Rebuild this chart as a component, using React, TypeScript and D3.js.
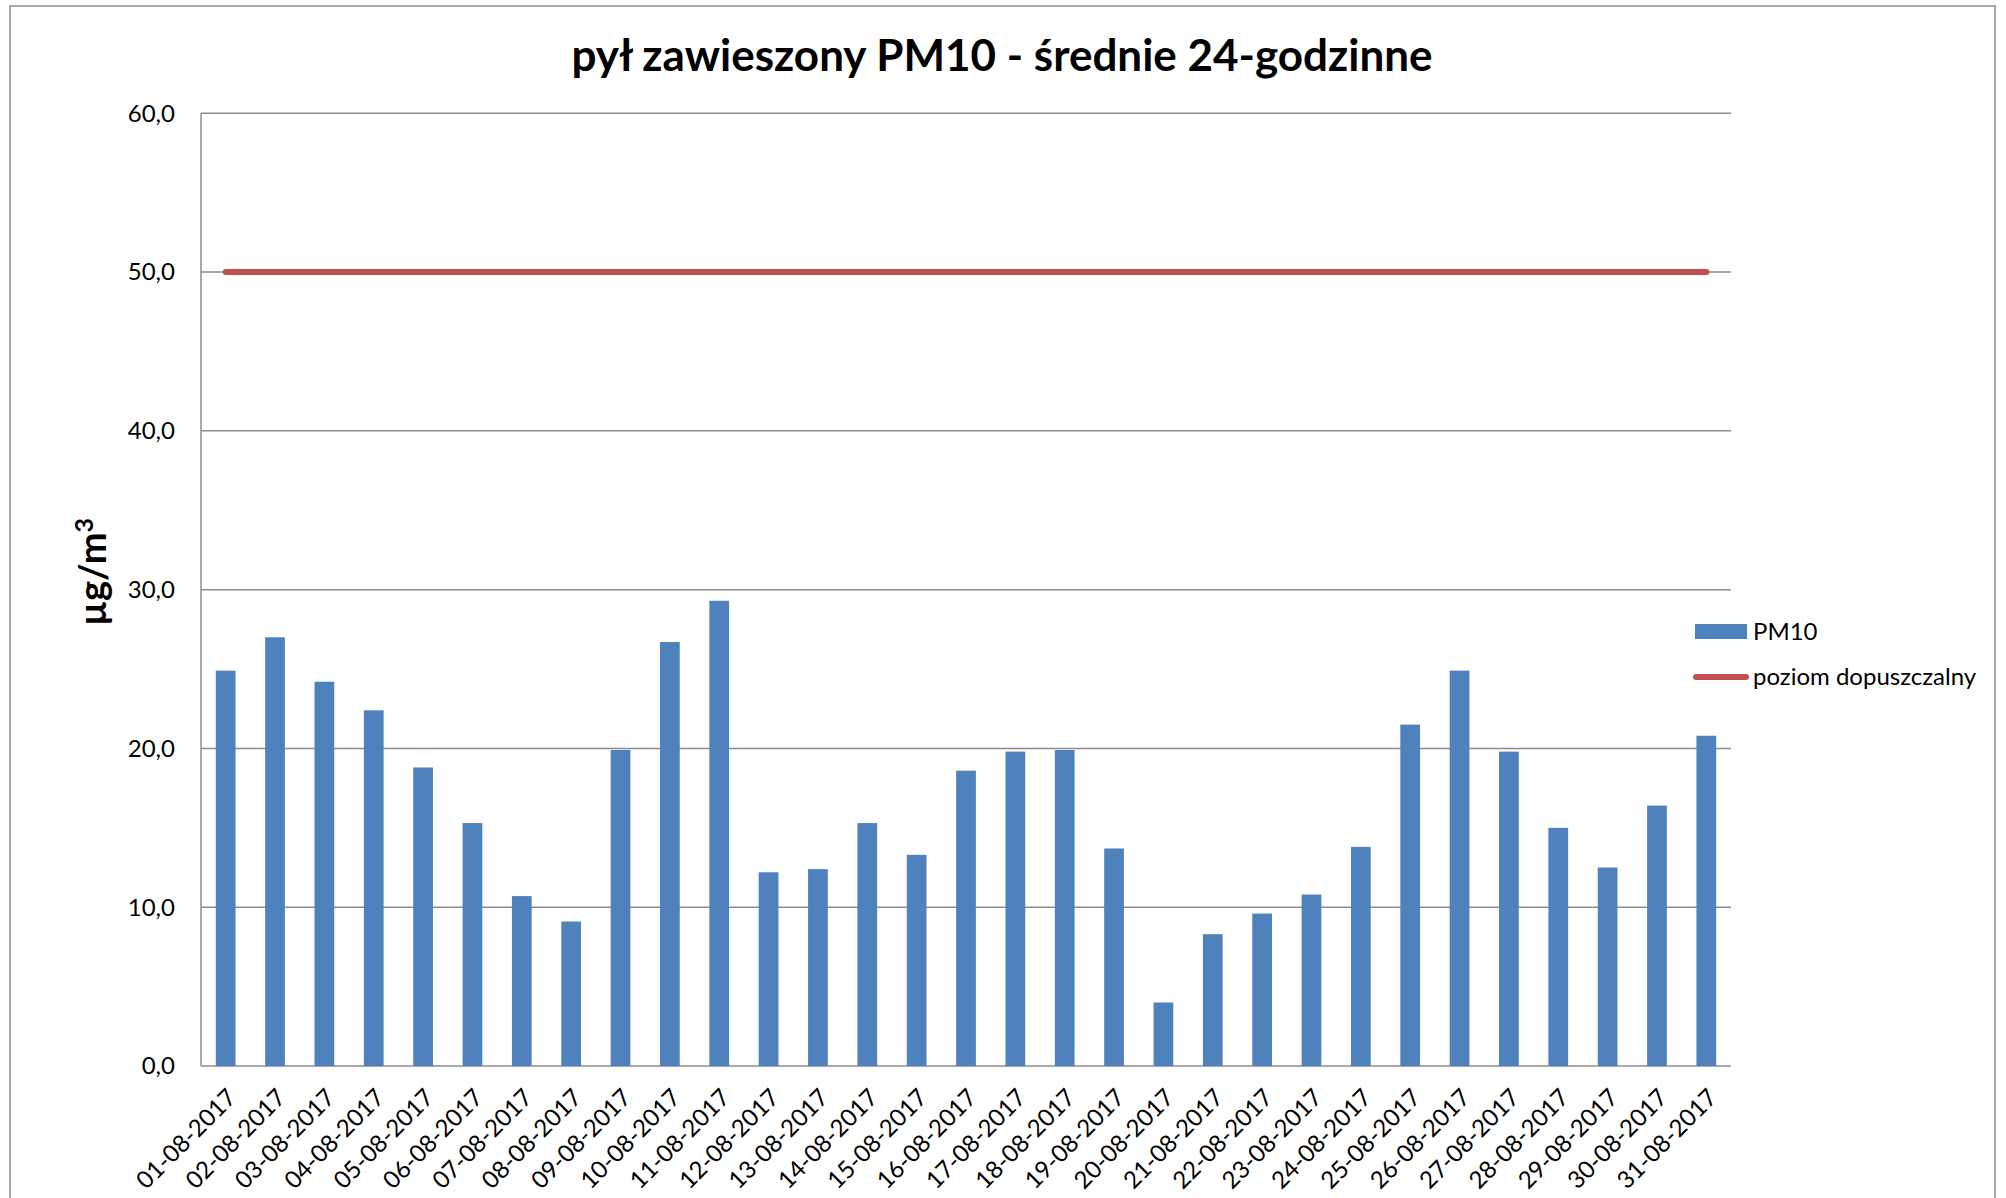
import { useEffect, useRef } from 'react';
import * as d3 from 'd3';

const dates = [
  '01-08-2017', '02-08-2017', '03-08-2017', '04-08-2017', '05-08-2017', '06-08-2017',
  '07-08-2017', '08-08-2017', '09-08-2017', '10-08-2017', '11-08-2017', '12-08-2017',
  '13-08-2017', '14-08-2017', '15-08-2017', '16-08-2017', '17-08-2017', '18-08-2017',
  '19-08-2017', '20-08-2017', '21-08-2017', '22-08-2017', '23-08-2017', '24-08-2017',
  '25-08-2017', '26-08-2017', '27-08-2017', '28-08-2017', '29-08-2017', '30-08-2017',
  '31-08-2017',
];

const pm10 = [
  24.9, 27.0, 24.2, 22.4, 18.8, 15.3, 10.7, 9.1, 19.9, 26.7, 29.3, 12.2,
  12.4, 15.3, 13.3, 18.6, 19.8, 19.9, 13.7, 4.0, 8.3, 9.6, 10.8, 13.8,
  21.5, 24.9, 19.8, 15.0, 12.5, 16.4, 20.8,
];

const limit = [
  50, 50, 50, 50, 50, 50, 50, 50, 50, 50, 50, 50, 50, 50, 50, 50,
  50, 50, 50, 50, 50, 50, 50, 50, 50, 50, 50, 50, 50, 50, 50,
];

const yTicks = [0, 10, 20, 30, 40, 50, 60];

const title = 'pył zawieszony PM10 - średnie 24-godzinne';
const seriesNames = ['PM10', 'poziom dopuszczalny'];

const W = 2006;
const H = 1198;
const BLUE = '#4F81BD';
const RED = '#C0504D';
const GRID = '#8C8C8C';
const FONT = 'Lato, "Liberation Sans", sans-serif';

export default function App() {
  const ref = useRef<SVGSVGElement>(null);

  useEffect(() => {
    const svg = d3.select(ref.current);
    svg.selectAll('*').remove();

    const margin = { top: 113.3, left: 201, right: W - 1731, bottom: H - 1066 };
    const innerW = W - margin.left - margin.right;
    const innerH = H - margin.top - margin.bottom;

    // chart frame
    svg.append('rect')
      .attr('x', 10).attr('y', 6)
      .attr('width', 1985).attr('height', 1210)
      .attr('fill', '#fff')
      .attr('stroke', GRID)
      .attr('stroke-width', 1.5);

    svg.append('text')
      .attr('x', 1002).attr('y', 71)
      .attr('text-anchor', 'middle')
      .attr('font-family', FONT)
      .attr('font-weight', 'bold')
      .attr('font-size', 44)
      .text(title);

    const g = svg.append('g').attr('transform', `translate(${margin.left},${margin.top})`);

    const x = d3.scaleBand().domain(dates).range([0, innerW]).paddingInner(0.6).paddingOuter(0.3);
    const y = d3.scaleLinear().domain([0, 60]).range([innerH, 0]);
    const cx = (d: string) => (x(d) as number) + x.bandwidth() / 2;

    // gridlines
    g.selectAll('line.grid')
      .data(yTicks)
      .join('line')
      .attr('class', 'grid')
      .attr('x1', 0).attr('x2', innerW)
      .attr('y1', d => y(d)).attr('y2', d => y(d))
      .attr('stroke', GRID)
      .attr('stroke-width', 1.5);

    g.append('line')
      .attr('x1', 0).attr('x2', 0)
      .attr('y1', 0).attr('y2', innerH)
      .attr('stroke', GRID)
      .attr('stroke-width', 1.5);

    // y tick labels
    g.selectAll('text.ytick')
      .data(yTicks)
      .join('text')
      .attr('class', 'ytick')
      .attr('x', -26)
      .attr('y', d => y(d))
      .attr('dy', '0.35em')
      .attr('text-anchor', 'end')
      .attr('font-family', FONT)
      .attr('font-size', 24)
      .text(d => d.toFixed(1).replace('.', ','));

    // bars
    g.selectAll('rect.bar')
      .data(pm10)
      .join('rect')
      .attr('class', 'bar')
      .attr('x', (_, i) => x(dates[i]) as number)
      .attr('width', x.bandwidth())
      .attr('y', d => y(d))
      .attr('height', d => innerH - y(d))
      .attr('fill', BLUE);

    // limit line
    const line = d3.line<number>()
      .x((_, i) => cx(dates[i]))
      .y(d => y(d));

    g.append('path')
      .datum(limit)
      .attr('d', line)
      .attr('fill', 'none')
      .attr('stroke', RED)
      .attr('stroke-width', 6)
      .attr('stroke-linecap', 'round');

    // x labels
    g.selectAll('text.xtick')
      .data(dates)
      .join('text')
      .attr('class', 'xtick')
      .attr('transform', d => `translate(${cx(d) + 12},${innerH + 33}) rotate(-45)`)
      .attr('text-anchor', 'end')
      .attr('font-family', FONT)
      .attr('font-size', 24)
      .text(d => d);

    // y axis title
    const yt = svg.append('text')
      .attr('transform', 'translate(106,572) rotate(-90)')
      .attr('text-anchor', 'middle')
      .attr('font-family', FONT)
      .attr('font-weight', 'bold')
      .attr('font-size', 38);
    yt.append('tspan').text('µg/m');
    yt.append('tspan').attr('dy', -13).attr('font-size', 25).text('3');

    // legend
    const lg = svg.append('g');
    lg.append('rect')
      .attr('x', 1695).attr('y', 624)
      .attr('width', 52).attr('height', 15)
      .attr('fill', BLUE);
    lg.append('line')
      .attr('x1', 1696).attr('x2', 1746)
      .attr('y1', 677).attr('y2', 677)
      .attr('stroke', RED)
      .attr('stroke-width', 6)
      .attr('stroke-linecap', 'round');
    lg.selectAll('text')
      .data(seriesNames)
      .join('text')
      .attr('x', 1753)
      .attr('y', (_, i) => 631.5 + i * 45.5)
      .attr('dy', '0.35em')
      .attr('font-family', FONT)
      .attr('font-size', 24)
      .text(d => d);
  }, []);

  return (
    <div style={{ position: 'absolute', left: 0, top: 0 }}>
      <svg ref={ref} width={W} height={H} style={{ display: 'block' }} />
    </div>
  );
}
